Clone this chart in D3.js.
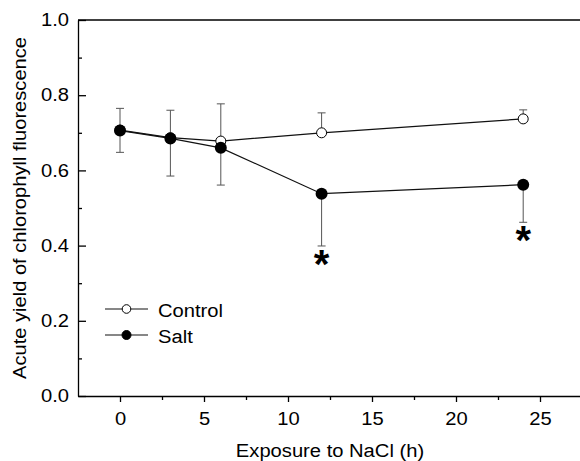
<!DOCTYPE html>
<html>
<head>
<meta charset="utf-8">
<script src="https://cdn.jsdelivr.net/npm/d3@7"></script>
<style>
  body { margin: 0; background: #fff; }
  svg text { font-family: "Liberation Sans", Arial, sans-serif; fill: #000; }
</style>
</head>
<body>
<div id="chart"></div>
<script>
// data
const times = [0, 3, 6, 12, 24];
const control = [0.707, 0.687, 0.678, 0.700, 0.737];
const controlErr = [0.058, 0.073, 0.099, 0.053, 0.024];   // drawn upward
const salt = [0.706, 0.685, 0.660, 0.538, 0.562];
const saltErr = [0.058, 0.100, 0.099, 0.139, 0.100];      // drawn downward
const significant = [12, 24];                              // asterisks under salt
const xMajor = [0, 5, 10, 15, 20, 25];
const xMinor = [2.5, 7.5, 12.5, 17.5, 22.5];
const yMajor = [0, 0.2, 0.4, 0.6, 0.8, 1.0];
const yMinor = [0.1, 0.3, 0.5, 0.7, 0.9];

const W = 580, H = 461;
const x = d3.scaleLinear().domain([-2.5, 27.5]).range([78, 582]);
const y = d3.scaleLinear().domain([0, 1]).range([396, 20]);
const STRETCH = 1.12;

// text in the picture is a bit wider than plain Arial
function stretch(sel, f) {
  sel.each(function() {
    const L = this.getComputedTextLength();
    this.setAttribute("textLength", L * f);
    this.setAttribute("lengthAdjust", "spacingAndGlyphs");
  });
}

const svg = d3.select("#chart").append("svg")
  .attr("width", W)
  .attr("height", H);

// axes
svg.append("g").attr("transform", `translate(0,${y(0)})`)
  .call(d3.axisBottom(x).tickValues(xMajor).tickSize(6).tickPadding(10).tickSizeOuter(0));
svg.append("g").attr("transform", `translate(0,${y(0)})`)
  .call(d3.axisBottom(x).tickValues(xMinor).tickSize(4).tickFormat("").tickSizeOuter(0))
  .select(".domain").remove();

svg.append("g").attr("transform", `translate(${x(-2.5)},0)`)
  .call(d3.axisLeft(y).tickValues(yMajor).tickFormat(d3.format(".1f"))
    .tickSize(-8).tickPadding(9).tickSizeOuter(0));
svg.append("g").attr("transform", `translate(${x(-2.5)},0)`)
  .call(d3.axisLeft(y).tickValues(yMinor).tickSize(-4).tickFormat("").tickSizeOuter(0))
  .select(".domain").remove();

svg.selectAll(".domain, .tick line").attr("stroke", "#000").attr("stroke-width", 1.3);
svg.selectAll(".tick text").attr("font-size", 18).attr("font-family", null).call(stretch, STRETCH);

// top frame line
svg.append("line")
  .attr("x1", x(-2.5)).attr("x2", x(27.5))
  .attr("y1", y(1)).attr("y2", y(1))
  .attr("stroke", "#000").attr("stroke-width", 1.3);

// axis titles
svg.append("text")
  .attr("x", (x(-2.5) + x(27.5)) / 2).attr("y", 457)
  .attr("text-anchor", "middle").attr("font-size", 18)
  .text("Exposure to NaCl (h)")
  .call(stretch, STRETCH);

svg.append("text")
  .attr("transform", `translate(26,${(y(0) + y(1)) / 2}) rotate(-90)`)
  .attr("text-anchor", "middle").attr("font-size", 18)
  .attr("textLength", 342).attr("lengthAdjust", "spacingAndGlyphs")
  .text("Acute yield of chlorophyll fluorescence");

const ctrl = times.map((t, i) => ({ t, v: control[i], e: controlErr[i] }));
const slt = times.map((t, i) => ({ t, v: salt[i], e: saltErr[i] }));

// error bars
function errorBars(data, dir) {
  const g = svg.append("g").attr("stroke", "#555").attr("stroke-width", 1);
  g.selectAll("line.v").data(data).enter().append("line")
    .attr("x1", d => x(d.t)).attr("x2", d => x(d.t))
    .attr("y1", d => y(d.v)).attr("y2", d => y(d.v + dir * d.e));
  g.selectAll("line.c").data(data).enter().append("line")
    .attr("x1", d => x(d.t) - 4).attr("x2", d => x(d.t) + 4)
    .attr("y1", d => y(d.v + dir * d.e)).attr("y2", d => y(d.v + dir * d.e));
}
errorBars(ctrl, 1);
errorBars(slt, -1);

// lines
const line = d3.line().x(d => x(d.t)).y(d => y(d.v));
svg.append("path").datum(ctrl).attr("d", line)
  .attr("fill", "none").attr("stroke", "#111").attr("stroke-width", 1.2);
svg.append("path").datum(slt).attr("d", line)
  .attr("fill", "none").attr("stroke", "#111").attr("stroke-width", 1.2);

// markers
svg.selectAll("circle.ctrl").data(ctrl).enter().append("circle")
  .attr("cx", d => x(d.t)).attr("cy", d => y(d.v)).attr("r", 5)
  .attr("fill", "#fff").attr("stroke", "#000").attr("stroke-width", 1);
svg.selectAll("circle.salt").data(slt).enter().append("circle")
  .attr("cx", d => x(d.t)).attr("cy", d => y(d.v)).attr("r", 6)
  .attr("fill", "#000");

// significance asterisks
svg.selectAll("text.star").data(slt.filter(d => significant.includes(d.t))).enter()
  .append("text")
  .attr("x", d => x(d.t)).attr("y", d => y(d.v - d.e) + 32)
  .attr("text-anchor", "middle").attr("font-size", 40).attr("font-weight", "bold")
  .text("*");

// legend
const legend = [
  { name: "Control", fill: "#fff", r: 4.3, y: 309 },
  { name: "Salt", fill: "#000", r: 4.5, y: 335 }
];
const lg = svg.append("g");
legend.forEach(d => {
  lg.append("line").attr("x1", 105).attr("x2", 148).attr("y1", d.y).attr("y2", d.y)
    .attr("stroke", "#111").attr("stroke-width", 1.2);
  lg.append("circle").attr("cx", 126.5).attr("cy", d.y).attr("r", d.r)
    .attr("fill", d.fill).attr("stroke", "#000").attr("stroke-width", 1);
  lg.append("text").attr("x", 158).attr("y", d.y + 7.5).attr("font-size", 18)
    .text(d.name).call(stretch, STRETCH);
});
</script>
</body>
</html>
